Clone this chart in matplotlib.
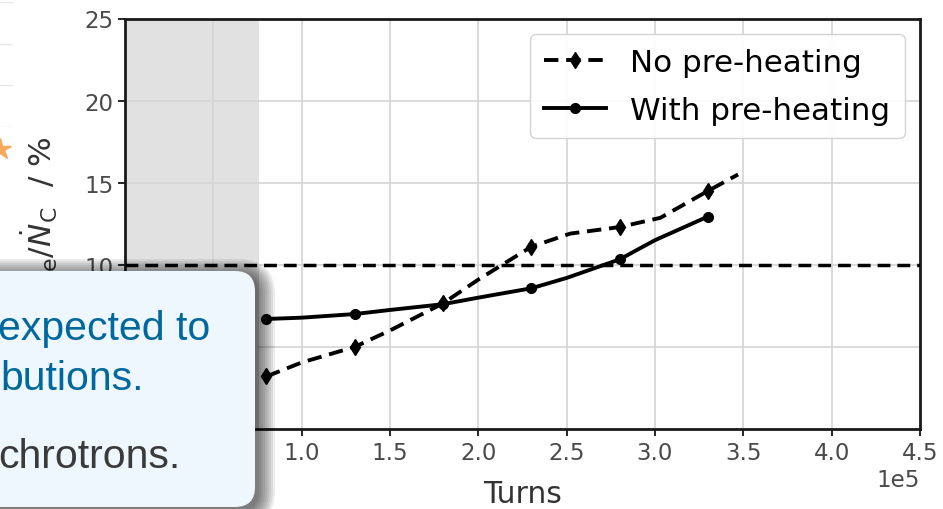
import matplotlib
matplotlib.use("Agg")
import matplotlib.pyplot as plt
from matplotlib.patches import FancyBboxPatch
from matplotlib.transforms import IdentityTransform

# ---------------------------------------------------------
# Data
# ---------------------------------------------------------
turns = [0.8e5, 1.3e5, 1.8e5, 2.3e5, 2.8e5, 3.3e5]
no_preheat = [3.2, 5.0, 7.65, 11.1, 12.3, 14.5]
with_preheat = [6.7, 7.0, 7.6, 8.57, 10.33, 12.94]

# smooth fit curves as drawn in the figure
no_fit_x = [0.8e5, 1.0e5, 1.3e5, 1.5e5, 1.8e5, 2.0e5, 2.3e5, 2.52e5, 2.8e5, 3.03e5, 3.3e5, 3.47e5]
no_fit_y = [3.2, 4.05, 5.0, 6.0, 7.65, 9.1, 11.1, 11.9, 12.3, 12.86, 14.5, 15.5]
with_fit_x = [0.8e5, 1.0e5, 1.3e5, 1.5e5, 1.8e5, 2.0e5, 2.3e5, 2.5e5, 2.8e5, 3.0e5, 3.3e5]
with_fit_y = [6.7, 6.78, 7.0, 7.25, 7.6, 8.0, 8.57, 9.2, 10.33, 11.5, 12.94]

threshold = 10
shaded_region = (0, 0.76e5)
x_limits = (0, 4.5e5)
y_limits = (0, 25)

labels = ["No pre-heating", "With pre-heating"]
xlabel = "Turns"
ylabel = r"$\dot{N}_\mathrm{e}/\dot{N}_\mathrm{C}$  / %"

# overlaid slide text (clipped on the left)
overlay_lines = ["expected to", "butions.", "chrotrons."]
overlay_colors = ["#00689c", "#00689c", "#3a3a3a"]

# neighbouring panel remnants on the far left
nb_grid = [0, 1, 2, 3]
nb_star = (0.82, -0.53)

# ---------------------------------------------------------
# Figure
# ---------------------------------------------------------
W, H = 943, 510
fig = plt.figure(figsize=(W / 100, H / 100), dpi=100)

ax_nb = fig.add_axes([-60 / W, 1 - 128 / H, 73 / W, 125 / H])
ax_nb.set_xlim(0, 1)
ax_nb.set_ylim(0, 3)
for g in nb_grid:
    ax_nb.axhline(g, color="#e6e6e6", lw=1.0)
ax_nb.plot([nb_star[0]], [nb_star[1]], marker="*", ms=16, color="#f7a95c",
           mec="#f7a95c", clip_on=False)
ax_nb.axis("off")

ax = fig.add_axes([125 / W, 1 - 430 / H, 795 / W, 410.5 / H])

ax.axvspan(*shaded_region, color="#e1e1e1", zorder=0, lw=0)
ax.grid(True, color="#d4d4d4", lw=1.2, zorder=1)
ax.set_axisbelow(True)

dash = (0, (3.7, 2.0))
ax.axhline(threshold, color="black", ls=dash, lw=2.5, zorder=3)

ax.plot(no_fit_x, no_fit_y, color="black", ls=dash, lw=2.8, zorder=4)
ax.plot(with_fit_x, with_fit_y, color="black", ls="-", lw=2.8, zorder=4)
ax.plot(turns, no_preheat, color="black", ls="none", marker="d", ms=8, zorder=5)
ax.plot(turns, with_preheat, color="black", ls="none", marker="o", ms=7, zorder=5)

# legend handles
ax.plot([], [], color="black", ls=dash, lw=2.8, marker="d", ms=8, label=labels[0])
ax.plot([], [], color="black", ls="-", lw=2.8, marker="o", ms=7, label=labels[1])
ax.legend(loc="upper right", fontsize=22.3, framealpha=0.9, edgecolor="#d0d0d0",
          handlelength=2.0, borderpad=0.45, labelspacing=0.6, handletextpad=0.8,
          borderaxespad=0.5)

ax.set_xlim(*x_limits)
ax.set_ylim(*y_limits)
ax.set_xticks([i * 0.5e5 for i in range(10)])
ax.set_yticks([0, 5, 10, 15, 20, 25])
ax.ticklabel_format(axis="x", style="sci", scilimits=(0, 0))
ax.tick_params(labelsize=16.5, labelcolor="#4a4a4a", width=1.2, length=5)
ax.xaxis.get_offset_text().set_fontsize(16.5)
ax.xaxis.get_offset_text().set_color("#4a4a4a")
for s in ax.spines.values():
    s.set_linewidth(2.0)
    s.set_color("#1a1a1a")

ax.set_xlabel(xlabel, fontsize=21.5, color="#333333", labelpad=11)
ax.set_ylabel(ylabel, fontsize=22.5, color="#333333")
ax.yaxis.set_label_coords(-0.082, 0.523)

# ---------------------------------------------------------
# Slide call-out box drawn on top (pixel coordinates)
# ---------------------------------------------------------
px = IdentityTransform()
bx0, by0, bw, bh = -40, 2, 295, 236
for i in range(9):
    grow = 2.0 * i
    sh = FancyBboxPatch((bx0 + 4 - grow, by0 - 4 - grow), bw + 2 * grow, bh + 2 * grow,
                        boxstyle="round,pad=0,rounding_size=%g" % (20 + grow),
                        transform=px, facecolor="black", edgecolor="none",
                        alpha=0.075, zorder=20)
    fig.add_artist(sh)
box = FancyBboxPatch((bx0, by0), bw, bh, boxstyle="round,pad=0,rounding_size=20",
                     transform=px, facecolor="#eef7fd", edgecolor="none", zorder=21)
fig.add_artist(box)

text_right = [210, 144, 180]
text_base = [340, 390, 468]
for line, col, xr, yb in zip(overlay_lines, overlay_colors, text_right, text_base):
    fig.text(xr, H - yb, line, transform=px, ha="right", va="baseline",
             fontsize=29.5, color=col, family="Liberation Sans", zorder=22)

fig.savefig("out.png", dpi=100)
